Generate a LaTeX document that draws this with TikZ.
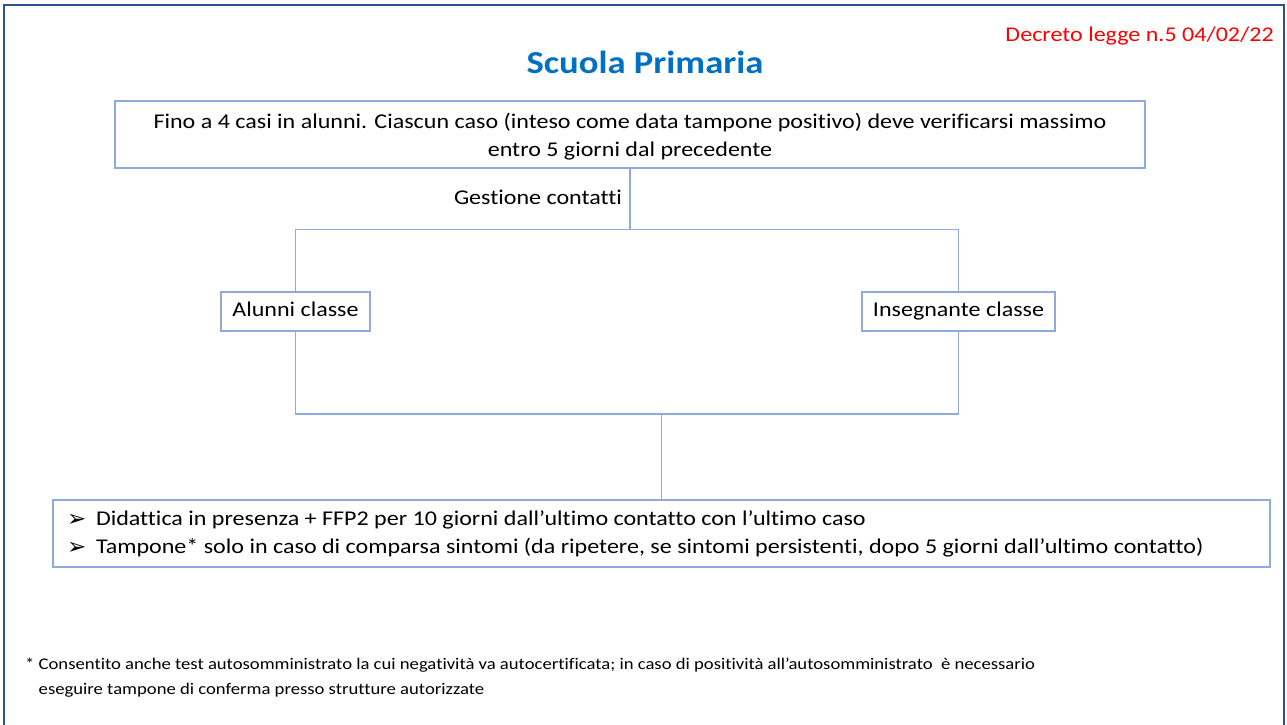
\documentclass[tikz,border=0pt]{standalone}
\usepackage{fontspec}
\setmainfont{Carlito}[FakeStretch=1.145, Ligatures=NoCommon]
\newfontfamily\symfont{DejaVu Sans}

\definecolor{framecol}{HTML}{2F528F}
\definecolor{boxcol}{HTML}{8FAADC}
\definecolor{titlecol}{HTML}{0070C0}
\definecolor{notecol}{HTML}{FF0000}

\tikzset{
  box/.style={draw=boxcol, line width=1.2pt, inner sep=0pt, font=\fontsize{21}{28}\selectfont},
  conn/.style={draw=boxcol, line width=1.2pt},
  plain/.style={inner sep=0pt, font=\fontsize{21}{28}\selectfont}
}
\newcommand{\bul}{\makebox[29pt][l]{\raisebox{-1pt}{\symfont\fontsize{23}{28}\selectfont ➢}}}

\begin{document}
\begin{tikzpicture}[x=1pt, y=-1pt]

% Page size and frame
\useasboundingbox (0,0) rectangle (1287,724);
\draw[framecol, line width=2pt] (4,5) rectangle (1284,740);

% Headings
\node[inner sep=0pt, font=\fontsize{32}{38}\selectfont\bfseries, text=titlecol] (title) at (645,62) {Scuola Primaria};
\node[inner sep=0pt, anchor=east, font=\fontsize{21}{24}\selectfont, text=notecol] (decreto) at (1274,36) {Decreto legge n.5 04/02/22};

% Boxes
\node[box, minimum width=1030pt, minimum height=67pt, align=center] (casi) at (630,134.5)
  {\rule{0pt}{19pt}Fino a 4 casi in alunni. Ciascun caso (inteso come data tampone positivo) deve verificarsi massimo\\entro 5 giorni dal precedente};
\node[plain] (gestione) at (538,197) {Gestione contatti};
\node[box, minimum width=149pt, minimum height=39pt, text height=13pt, text depth=4pt] (alunni) at (295.5,311.5) {Alunni classe};
\node[box, minimum width=193pt, minimum height=39pt, text height=13pt, text depth=4pt] (insegnante) at (958.5,311.5) {Insegnante classe};
\node[box, minimum width=1217pt, minimum height=67pt, text width=1189pt, inner xsep=13pt, align=flush left] (misure) at (661.5,533.5)
  {\bul Didattica in presenza + FFP2 per 10 giorni dall’ultimo contatto con l’ultimo caso\\
   \bul Tampone* solo in caso di comparsa sintomi (da ripetere, se sintomi persistenti, dopo 5 giorni dall’ultimo contatto)};

% Connectors
\draw[conn] (casi.south) -- ++(0,61) coordinate (split);
\draw[conn] (alunni.north) |- (split) -| (insegnante.north);
\coordinate (merge) at (misure.north |- 0,414);
\draw[conn] (alunni.south) |- (merge) -| (insegnante.south);
\draw[conn] (merge) -- (misure.north);

% Footnote
\node[inner sep=0pt, anchor=west, align=flush left, font=\fontsize{16.3}{25}\selectfont] (nota) at (25,677.5)
  {* Consentito anche test autosomministrato la cui negatività va autocertificata; in caso di positività all’autosomministrato \ è necessario\\
   \phantom{* }eseguire tampone di conferma presso strutture autorizzate};

\end{tikzpicture}
\end{document}
